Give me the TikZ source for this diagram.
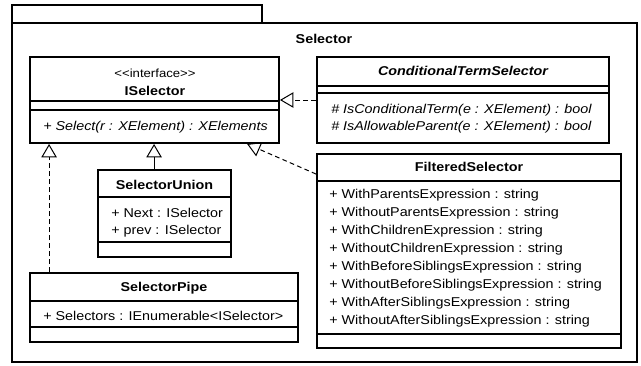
\documentclass[tikz,border=0pt]{standalone}
\usepackage{fontspec}
\setmainfont{Liberation Sans}[FakeStretch=1.12]
\usetikzlibrary{arrows.meta,fit,calc}

% horizontal compartment line inside a class box, #2 units below its top edge
\newcommand\compline[2]{\draw[compsep] ($(#1.north west)+(0,#2)$) -- ($(#1.north east)+(0,#2)$);}

\begin{document}
\begin{tikzpicture}[x=0.75pt,y=-0.75pt,
  every node/.style={font=\fontsize{9.6pt}{11pt}\selectfont, inner sep=0pt},
  pkgbox/.style={draw, line width=1.2pt, inner sep=0pt},
  classbox/.style={draw, line width=1.4pt, inner sep=0pt, fill=white},
  compsep/.style={line width=0.9pt},
  member/.style={anchor=west, text height=7pt, text depth=2pt},
  cname/.style={font=\fontsize{9.6pt}{11pt}\selectfont\bfseries, text height=7pt, text depth=2pt},
  hollowtip/.style={-{Triangle[open, length=10pt, width=11.5pt, line width=0.75pt]}},
  realize/.style={draw, line width=0.75pt, dash pattern=on 3.5pt off 2.5pt, hollowtip},
  inherit/.style={draw, line width=0.75pt, hollowtip}]

\useasboundingbox (0,0) rectangle (641,365);

% package frame
\node[pkgbox, fit={(12,5)(262,23)}] (tab) {};
\node[pkgbox, fit={(12,23)(637,362)}] (pkg) {};
\node[cname] (pkgname) at (324,40) {Selector};

% ISelector
\node[classbox, fit={(30,57)(279,143)}] (isel) {};
\node[font=\fontsize{8.8pt}{10pt}\selectfont, text height=7pt, text depth=2pt] (iselst) at (155,74) {<{}<interface>{}>};
\node[cname] (iselname) at (155,92) {ISelector};
\compline{isel}{45}
\compline{isel}{54}
\node[member] (iselm1) at (43,127) {\itshape + Select(r : XElement) : XElements};

% ConditionalTermSelector
\node[classbox, fit={(317,57)(609,143)}] (cond) {};
\node[cname] (condname) at (463,72) {\itshape ConditionalTermSelector};
\compline{cond}{30}
\compline{cond}{37}
\node[member] (condm1) at (331,110) {\itshape \# IsConditionalTerm(e : XElement) : bool};
\node[member] (condm2) at (331,127) {\itshape \# IsAllowableParent(e : XElement) : bool};

% FilteredSelector
\node[classbox, fit={(317,154)(621,348)}] (filt) {};
\node[cname] (filtname) at (469,168) {FilteredSelector};
\compline{filt}{28}
\node[member] (filta1) at (329,195) {+ WithParentsExpression : string};
\node[member] (filta2) at (329,213) {+ WithoutParentsExpression : string};
\node[member] (filta3) at (329,231) {+ WithChildrenExpression : string};
\node[member] (filta4) at (329,249) {+ WithoutChildrenExpression : string};
\node[member] (filta5) at (329,267) {+ WithBeforeSiblingsExpression : string};
\node[member] (filta6) at (329,285) {+ WithoutBeforeSiblingsExpression : string};
\node[member] (filta7) at (329,303) {+ WithAfterSiblingsExpression : string};
\node[member] (filta8) at (329,321) {+ WithoutAfterSiblingsExpression : string};
\compline{filt}{181}

% SelectorUnion
\node[classbox, fit={(98,170)(231,257)}] (union) {};
\node[cname] (unionname) at (164.5,186) {SelectorUnion};
\compline{union}{28}
\node[member] (uniona1) at (111,214) {+ Next : ISelector};
\node[member] (uniona2) at (111,231) {+ prev : ISelector};
\compline{union}{73}

% SelectorPipe
\node[classbox, fit={(30,273)(298,342)}] (pipe) {};
\node[cname] (pipename) at (164,288) {SelectorPipe};
\compline{pipe}{29}
\node[member] (pipea1) at (43,317) {+ Selectors : IEnumerable<ISelector>};
\compline{pipe}{55}

% relations
\draw[realize] ($(pipe.north west)+(20,0)$) -- ($(isel.south west)+(20,0)$);
\draw[inherit] ($(union.north west)+(57,0)$) -- ($(isel.south west)+(125,0)$);
\draw[realize] ($(filt.north west)+(0,21)$) -- ($(isel.south west)+(218,0)$);
\draw[realize] (cond.west) -- (isel.east);
\end{tikzpicture}
\end{document}
